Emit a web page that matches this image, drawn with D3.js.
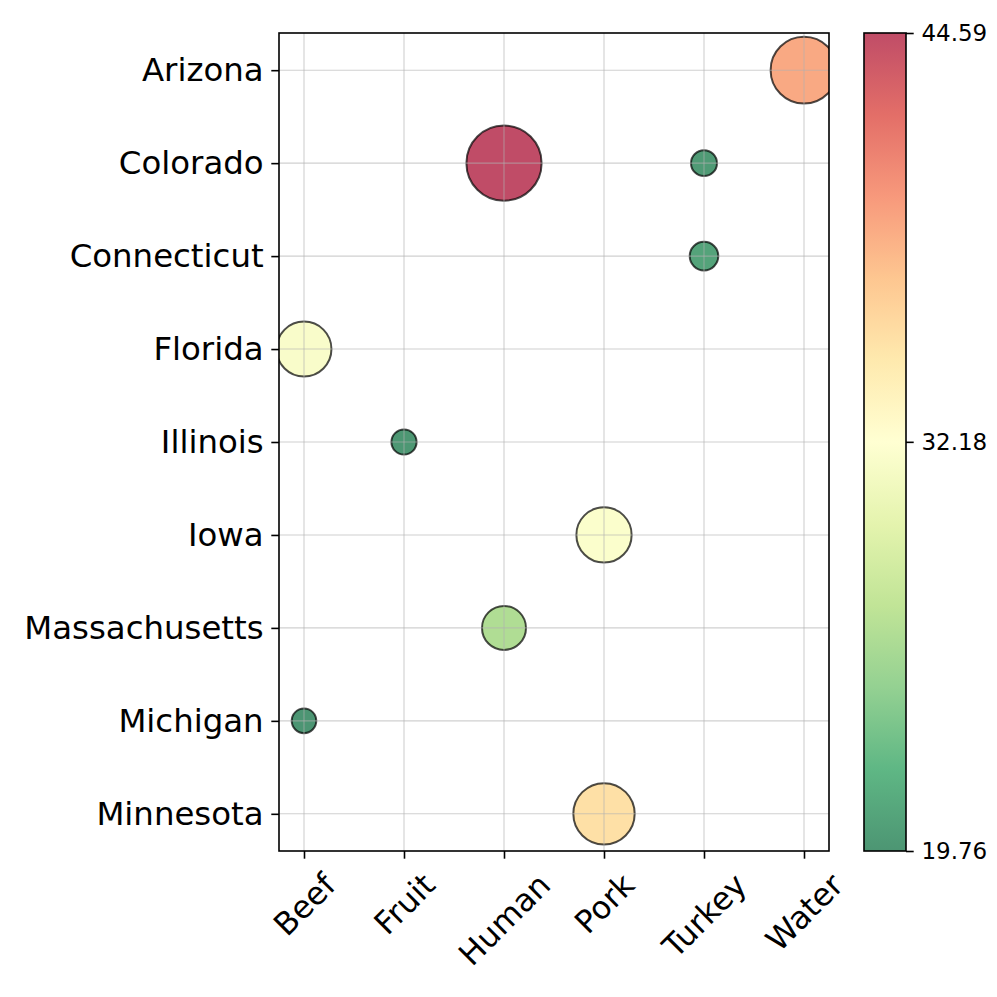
<!DOCTYPE html>
<html>
<head>
<meta charset="utf-8">
<script src="https://cdn.jsdelivr.net/npm/d3@7"></script>
<style>
  body { margin: 0; background: #fff; }
  svg { display: block; font-family: "DejaVu Sans", sans-serif; }
</style>
</head>
<body>
<script>
// categories and states
const categories = ["Beef", "Fruit", "Human", "Pork", "Turkey", "Water"];
const states = ["Arizona", "Colorado", "Connecticut", "Florida", "Illinois",
  "Iowa", "Massachusetts", "Michigan", "Minnesota"];

// one entry per bubble
const pointState = ["Arizona", "Colorado", "Colorado", "Connecticut", "Florida",
  "Illinois", "Iowa", "Massachusetts", "Michigan", "Minnesota"];
const pointCategory = ["Water", "Human", "Turkey", "Turkey", "Beef",
  "Fruit", "Pork", "Human", "Beef", "Pork"];
const pointValue = [38.7, 44.59, 20.1, 20.8, 31.6, 19.9, 31.8, 26.3, 19.76, 35.3];

const colorbarTicks = [19.76, 32.18, 44.59];

const width = 997, height = 997;
const margin = {top: 33, right: 168, bottom: 146, left: 279};
const plotW = width - margin.left - margin.right;   // 550
const plotH = height - margin.top - margin.bottom;  // 818
const tickLen = 7.7, tickPad = 7.7;

const svg = d3.select("body").append("svg")
    .attr("width", width)
    .attr("height", height);

// matplotlib-like 5% margins around categorical positions
const x = d3.scaleLinear()
    .domain([-0.25, categories.length - 1 + 0.25])
    .range([margin.left, margin.left + plotW]);
const y = d3.scaleLinear()
    .domain([-0.4, states.length - 1 + 0.4])
    .range([margin.top, margin.top + plotH]);

const vmin = d3.min(pointValue), vmax = d3.max(pointValue);
const stops = d3.schemeRdYlGn[11].slice().reverse();
const color = d3.scaleLinear()
    .domain(d3.range(11).map(i => vmin + (vmax - vmin) * i / 10))
    .range(stops)
    .clamp(true);
const area = d3.scaleLinear().domain([vmin, vmax]).range([12.3 * 12.3, 37.6 * 37.6]);
const radius = v => Math.sqrt(area(v));

const points = pointValue.map((v, i) => ({
  state: pointState[i], cat: pointCategory[i], value: v
}));

svg.append("clipPath").attr("id", "clip")
  .append("rect")
    .attr("x", margin.left).attr("y", margin.top)
    .attr("width", plotW).attr("height", plotH);

// bubbles
svg.append("g")
    .attr("clip-path", "url(#clip)")
  .selectAll("circle")
  .data(points)
  .join("circle")
    .attr("cx", d => x(categories.indexOf(d.cat)))
    .attr("cy", d => y(states.indexOf(d.state)))
    .attr("r", d => radius(d.value))
    .attr("fill", d => color(d.value))
    .attr("fill-opacity", 0.7)
    .attr("stroke", "#000")
    .attr("stroke-opacity", 0.7)
    .attr("stroke-width", 2);

// grid (drawn above the bubbles as matplotlib does)
const grid = svg.append("g").attr("stroke", "#b0b0b0").attr("stroke-opacity", 0.6).attr("stroke-width", 1.1);
grid.selectAll(".gx").data(categories).join("line")
    .attr("x1", (d, i) => x(i)).attr("x2", (d, i) => x(i))
    .attr("y1", margin.top).attr("y2", margin.top + plotH);
grid.selectAll(".gy").data(states).join("line")
    .attr("y1", (d, i) => y(i)).attr("y2", (d, i) => y(i))
    .attr("x1", margin.left).attr("x2", margin.left + plotW);

// y axis
const yAxis = svg.append("g")
    .attr("transform", `translate(${margin.left},0)`)
    .call(d3.axisLeft(y)
      .tickValues(d3.range(states.length))
      .tickFormat(i => states[i])
      .tickSize(tickLen)
      .tickPadding(tickPad));
yAxis.select(".domain").remove();
yAxis.selectAll(".tick line").attr("stroke", "#000").attr("stroke-width", 1.6);
yAxis.selectAll(".tick text")
    .attr("font-size", 32.4)
    .attr("font-family", "DejaVu Sans")
    .attr("fill", "#000");

// x axis
const xFont = 31.5;
const xAxis = svg.append("g")
    .attr("transform", `translate(0,${margin.top + plotH})`)
    .call(d3.axisBottom(x)
      .tickValues(d3.range(categories.length))
      .tickFormat(i => categories[i])
      .tickSize(tickLen));
xAxis.select(".domain").remove();
xAxis.selectAll(".tick line").attr("stroke", "#000").attr("stroke-width", 1.6);
xAxis.selectAll(".tick text")
    .attr("font-size", xFont)
    .attr("font-family", "DejaVu Sans")
    .attr("fill", "#000")
    .attr("text-anchor", "middle")
    .attr("dy", null)
    .attr("dominant-baseline", "central")
    .attr("y", null)
    .each(function() {
      const w = this.getComputedTextLength();
      const h = xFont * 1.16;
      const off = tickLen + tickPad + (w + h) * Math.SQRT1_2 / 2;
      d3.select(this).attr("transform", `translate(0,${off}) rotate(-45)`);
    });

// axes frame
svg.append("rect")
    .attr("x", margin.left).attr("y", margin.top)
    .attr("width", plotW).attr("height", plotH)
    .attr("fill", "none").attr("stroke", "#000").attr("stroke-width", 1.6);

// colorbar
const cbX = 864, cbW = 42;
const cbY = d3.scaleLinear().domain([vmin, vmax]).range([margin.top + plotH, margin.top]);
const grad = svg.append("defs").append("linearGradient")
    .attr("id", "cbgrad")
    .attr("x1", 0).attr("y1", 1).attr("x2", 0).attr("y2", 0);
grad.selectAll("stop").data(stops).join("stop")
    .attr("offset", (d, i) => i / 10)
    .attr("stop-color", d => d)
    .attr("stop-opacity", 0.7);
svg.append("rect")
    .attr("x", cbX).attr("y", margin.top)
    .attr("width", cbW).attr("height", plotH)
    .attr("fill", "url(#cbgrad)");
const cbAxis = svg.append("g")
    .attr("transform", `translate(${cbX + cbW},0)`)
    .call(d3.axisRight(cbY)
      .tickValues(colorbarTicks)
      .tickFormat(d3.format(".2f"))
      .tickSize(tickLen)
      .tickPadding(tickPad));
cbAxis.select(".domain").remove();
cbAxis.selectAll(".tick line").attr("stroke", "#000").attr("stroke-width", 1.6);
cbAxis.selectAll(".tick text")
    .attr("font-size", 23)
    .attr("font-family", "DejaVu Sans")
    .attr("fill", "#000");
svg.append("rect")
    .attr("x", cbX).attr("y", margin.top)
    .attr("width", cbW).attr("height", plotH)
    .attr("fill", "none").attr("stroke", "#000").attr("stroke-width", 1.6);
</script>
</body>
</html>
